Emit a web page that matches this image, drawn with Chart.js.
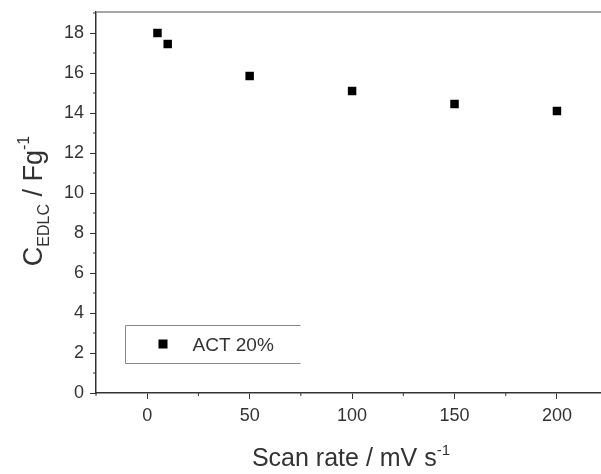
<!DOCTYPE html>
<html lang="en">
<head>
    <meta charset="UTF-8">
    <title>Scan rate vs C EDLC</title>
    <script src="https://cdn.jsdelivr.net/npm/chart.js"></script>
    <style>
        html, body { margin: 0; padding: 0; background: #fff; }
        #wrap { width: 601px; height: 474px; }
    </style>
</head>
<body>
<div id="wrap"><canvas id="myChart" width="601" height="474"></canvas></div>
<script>
    // data
    const scanRates = [5, 10, 50, 100, 150, 200];
    const capacitance = [18.0, 17.45, 15.85, 15.1, 14.45, 14.1];
    const seriesLabel = "ACT 20%";
    const xTicks = [0, 50, 100, 150, 200];
    const yTicks = [0, 2, 4, 6, 8, 10, 12, 14, 16, 18];

    const FONT = "'Liberation Sans', Arial, sans-serif";
    const INK = "#333";

    // axis titles, frame, minor ticks and legend box
    const decor = {
        id: "decor",
        afterDraw(chart) {
            const ctx = chart.ctx;
            const a = chart.chartArea;
            const xs = chart.scales.x, ys = chart.scales.y;
            ctx.save();

            // top frame line
            ctx.strokeStyle = "#888";
            ctx.lineWidth = 1.5;
            ctx.beginPath();
            ctx.moveTo(a.left, a.top);
            ctx.lineTo(a.right, a.top);
            ctx.stroke();

            // minor ticks
            ctx.strokeStyle = INK;
            ctx.lineWidth = 1;
            for (let v = -25; v <= 225; v += 50) {
                const px = xs.getPixelForValue(v);
                if (px < a.left || px > a.right) continue;
                ctx.beginPath();
                ctx.moveTo(px, a.bottom);
                ctx.lineTo(px, a.bottom + 3);
                ctx.stroke();
            }
            for (let v = 1; v <= 19; v += 2) {
                const py = ys.getPixelForValue(v);
                ctx.beginPath();
                ctx.moveTo(a.left, py);
                ctx.lineTo(a.left - 3, py);
                ctx.stroke();
            }

            // legend box (open on the right, like the original)
            const ds = chart.data.datasets[0];
            const bx = 125.5, bw = 175;
            const by = 325.5, bh = 38;
            ctx.strokeStyle = "#888";
            ctx.lineWidth = 1;
            ctx.beginPath();
            ctx.moveTo(bx + bw, by);
            ctx.lineTo(bx, by);
            ctx.lineTo(bx, by + bh);
            ctx.lineTo(bx + bw, by + bh);
            ctx.stroke();
            ctx.fillStyle = "#000";
            ctx.fillRect(bx + 33, by + bh / 2 - 5, 9, 9);
            ctx.fillStyle = INK;
            ctx.font = "19px " + FONT;
            ctx.textBaseline = "middle";
            ctx.fillText(ds.label, bx + 67, by + bh / 2 + 1);

            // x title: Scan rate / mV s^-1
            ctx.textBaseline = "alphabetic";
            ctx.font = "25px " + FONT;
            const xMain = "Scan rate / mV s";
            const wMain = ctx.measureText(xMain).width;
            ctx.font = "15px " + FONT;
            const wSup = ctx.measureText("-1").width;
            const tx = 351 - (wMain + wSup) / 2;
            const ty = 466;
            ctx.font = "25px " + FONT;
            ctx.fillText(xMain, tx, ty);
            ctx.font = "15px " + FONT;
            ctx.fillText("-1", tx + wMain, ty - 11);

            // y title: C_EDLC / Fg^-1 (rotated)
            ctx.translate(42, 201);
            ctx.rotate(-Math.PI / 2);
            const parts = [
                { t: "C", f: "27px", dy: 0 },
                { t: "EDLC", f: "16px", dy: 7 },
                { t: " / Fg", f: "27px", dy: 0 },
                { t: "-1", f: "16px", dy: -13 }
            ];
            let total = 0;
            parts.forEach(p => { ctx.font = p.f + " " + FONT; p.w = ctx.measureText(p.t).width; total += p.w; });
            let cx = -total / 2;
            parts.forEach(p => {
                ctx.font = p.f + " " + FONT;
                ctx.fillText(p.t, cx, p.dy);
                cx += p.w;
            });
            ctx.restore();
        }
    };

    new Chart(document.getElementById("myChart").getContext("2d"), {
        type: "scatter",
        data: {
            datasets: [{
                label: seriesLabel,
                data: scanRates.map((x, i) => ({ x: x, y: capacitance[i] })),
                pointStyle: "rect",
                pointRadius: 6,
                pointHoverRadius: 6,
                backgroundColor: "#000",
                borderColor: "#000",
                borderWidth: 0
            }]
        },
        options: {
            responsive: false,
            animation: false,
            layout: { autoPadding: false, padding: { top: 12, right: 0, left: 0, bottom: 0 } },
            plugins: {
                legend: { display: false },
                tooltip: { enabled: false }
            },
            scales: {
                x: {
                    type: "linear",
                    min: -25,
                    max: 221.5,
                    afterBuildTicks: s => { s.ticks = xTicks.map(v => ({ value: v })); },
                    afterFit: s => { s.height = 81; s.paddingLeft = 0; s.paddingRight = 0; },
                    ticks: { color: INK, font: { family: FONT, size: 18 }, padding: 6 },
                    grid: { drawOnChartArea: false, tickLength: 6, tickColor: INK, tickWidth: 1 },
                    border: { color: INK, width: 1.5 }
                },
                y: {
                    type: "linear",
                    min: 0,
                    max: 19.05,
                    afterBuildTicks: s => { s.ticks = yTicks.map(v => ({ value: v })); },
                    afterFit: s => { s.width = 96; s.paddingTop = 0; s.paddingBottom = 0; },
                    ticks: { color: INK, font: { family: FONT, size: 18 }, padding: 6 },
                    grid: { drawOnChartArea: false, tickLength: 6, tickColor: INK, tickWidth: 1 },
                    border: { color: INK, width: 1.5 }
                }
            }
        },
        plugins: [decor]
    });
</script>
</body>
</html>
